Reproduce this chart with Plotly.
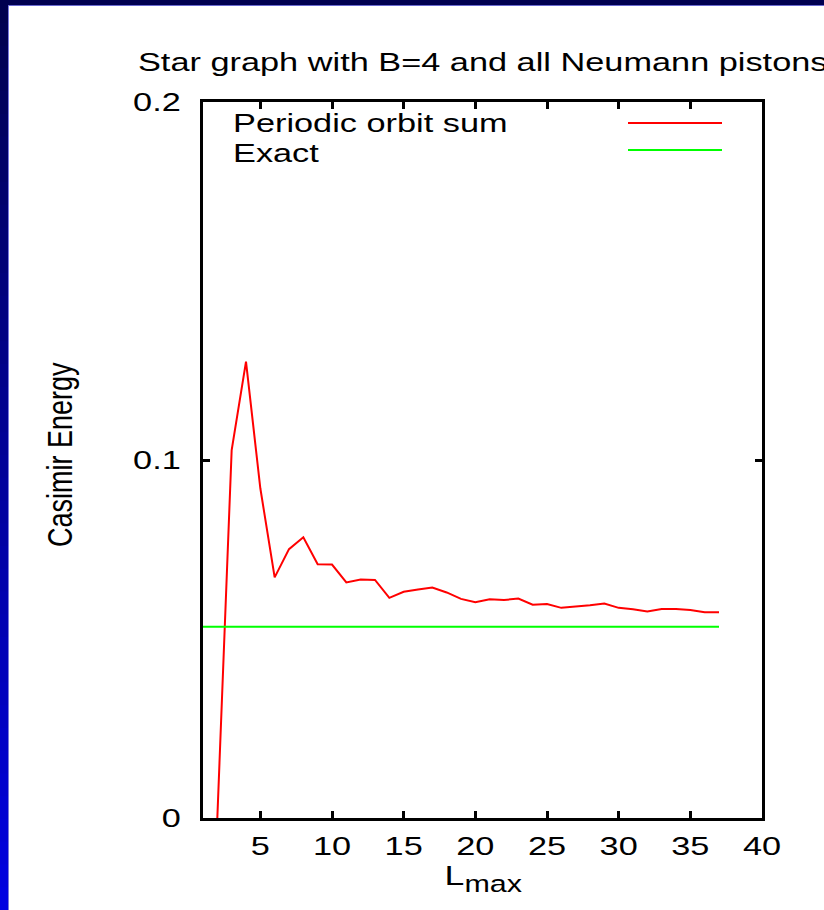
import plotly.graph_objects as go

# ---------------- data ----------------
L_max = list(range(2, 38))
periodic_orbit_sum = [
    0.0, 0.1028, 0.1275, 0.0921, 0.0672, 0.0751, 0.0784, 0.0709, 0.0708,
    0.0658, 0.0666, 0.0665, 0.0615, 0.0632, 0.0638, 0.0644, 0.0630, 0.0612,
    0.0603, 0.0611, 0.0609, 0.0613, 0.0596, 0.0598, 0.0587, 0.0590, 0.0594,
    0.0599, 0.0587, 0.0583, 0.0577, 0.0584, 0.0584, 0.0581, 0.0575, 0.0575,
]
exact_x = [1, 37]
exact_value = [0.0534, 0.0534]
x_ticks = [5, 10, 15, 20, 25, 30, 35, 40]
y_ticks = [0, 0.1, 0.2]
y_tick_labels = ["0", "0.1", "0.2"]
title_text = "Star graph with B=4 and all Neumann pistons"
series_names = ["Periodic orbit sum", "Exact"]

# ---------------- layout geometry ----------------
W, H = 824, 910
ML, MR, MT, MB = 203, 62, 102, 92
PW, PH = W - ML - MR, H - MT - MB


def px(xp):
    return (xp - ML) / PW


def py(yp):
    return (H - MB - yp) / PH


FONT = "Liberation Sans, Arial, Helvetica, sans-serif"
FS = 26

fig = go.Figure()
fig.add_trace(go.Scatter(x=L_max, y=periodic_orbit_sum, mode="lines",
                         name=series_names[0],
                         line=dict(color="#ff0000", width=2)))
fig.add_trace(go.Scatter(x=exact_x, y=exact_value, mode="lines",
                         name=series_names[1],
                         line=dict(color="#00ff00", width=2)))

shapes = []
# slide frame: left gradient band and top band
n = 40
for i in range(n):
    t = i / (n - 1)
    b = int(0x50 + (0xe0 - 0x50) * t)
    y0 = i * H / n
    y1 = (i + 1) * H / n + 1
    shapes.append(dict(type="rect", xref="paper", yref="paper",
                       x0=px(0), x1=px(8), y0=py(y1), y1=py(y0),
                       fillcolor=f"rgb(0,0,{b})", line=dict(width=0), layer="above"))
shapes.append(dict(type="rect", xref="paper", yref="paper",
                   x0=px(0), x1=px(W), y0=py(5), y1=py(0),
                   fillcolor="#000050", line=dict(width=0), layer="above"))
shapes.append(dict(type="rect", xref="paper", yref="paper",
                   x0=px(8), x1=px(9), y0=py(H), y1=py(5),
                   fillcolor="#7878e0", line=dict(width=0), layer="above"))
shapes.append(dict(type="rect", xref="paper", yref="paper",
                   x0=px(8), x1=px(W), y0=py(6), y1=py(5),
                   fillcolor="#6a6ad0", line=dict(width=0), layer="above"))
# legend sample lines (gnuplot style: text left, sample right)
shapes.append(dict(type="line", xref="paper", yref="paper",
                   x0=px(628), x1=px(722), y0=py(123), y1=py(123),
                   line=dict(color="#ff0000", width=2)))
shapes.append(dict(type="line", xref="paper", yref="paper",
                   x0=px(628), x1=px(722), y0=py(150), y1=py(150),
                   line=dict(color="#00ff00", width=2)))

annotations = [
    dict(text=title_text, xref="paper", yref="paper", x=px(136), y=py(62),
         xanchor="left", yanchor="middle", align="left", showarrow=False,
         font=dict(family=FONT, size=FS, color="black")),
    dict(text=series_names[0], xref="paper", yref="paper", x=px(233), y=py(137.5),
         xanchor="left", yanchor="bottom", align="left", showarrow=False,
         borderpad=0, borderwidth=0,
         font=dict(family=FONT, size=FS, color="black")),
    dict(text=series_names[1], xref="paper", yref="paper", x=px(233), y=py(137.5),
         xanchor="left", yanchor="top", align="left", showarrow=False,
         borderpad=0, borderwidth=0,
         font=dict(family=FONT, size=FS, color="black")),
    dict(text="Casimir Energy", xref="paper", yref="paper", x=px(60), y=py(455),
         xanchor="center", yanchor="middle", textangle=-90, showarrow=False,
         font=dict(family=FONT, size=27, color="black")),
    dict(text="<span style='font-size:27px'>L</span><sub>max</sub>",
         xref="paper", yref="paper", x=px(483), y=py(879),
         xanchor="center", yanchor="middle", showarrow=False,
         font=dict(family=FONT, size=33, color="black")),
]

axis_common = dict(showline=True, linecolor="black", linewidth=3, mirror="allticks",
                   ticks="inside", ticklen=7, tickwidth=3, tickcolor="black",
                   showgrid=False, zeroline=False,
                   tickfont=dict(family=FONT, size=FS, color="black"))

fig.update_layout(
    width=W, height=H,
    margin=dict(l=ML, r=MR, t=MT, b=MB),
    paper_bgcolor="white", plot_bgcolor="white",
    showlegend=False,
    shapes=shapes, annotations=annotations,
    xaxis=dict(range=[1, 40], tickvals=x_ticks, ticklabelstandoff=3, **axis_common),
    yaxis=dict(range=[0, 0.2], tickvals=y_ticks, ticktext=y_tick_labels,
               ticklabelstandoff=14, **axis_common),
)

# The reference image is stretched horizontally (~1.32x); reproduce this by
# widening every text element around its anchor point in screen space.
stretch_js = """
(function(){
  var gd = document.getElementById('{plot_id}');
  if (!gd) return;
  var S = 1.32;
  var svg = gd.querySelector('svg.main-svg');
  var texts = gd.querySelectorAll('svg text');
  Array.prototype.forEach.call(texts, function(t){
    if (t.getAttribute('data-stretched')) return;
    var r = t.getBoundingClientRect();
    if (!r || r.width === 0) return;
    var parent = t.parentNode;
    var ctm = parent.getScreenCTM();
    if (!ctm) return;
    var anchor = t.getAttribute('text-anchor') || 'start';
    var rotated = Math.abs(ctm.b) > 1e-6 || Math.abs(ctm.c) > 1e-6 ||
                  (t.getAttribute('transform') || '').indexOf('rotate') >= 0;
    var sx;
    if (rotated || anchor === 'middle') sx = r.left + r.width / 2;
    else if (anchor === 'end') sx = r.right;
    else sx = r.left;
    var ms = svg.createSVGMatrix().translate(sx, 0).scaleNonUniform(S, 1).translate(-sx, 0);
    var m = ctm.inverse().multiply(ms).multiply(ctm);
    var g = document.createElementNS('http://www.w3.org/2000/svg', 'g');
    g.setAttribute('transform', 'matrix(' + [m.a, m.b, m.c, m.d, m.e, m.f].join(',') + ')');
    parent.insertBefore(g, t);
    g.appendChild(t);
    t.setAttribute('data-stretched', '1');
  });
})();
"""

fig.write_html("out.html", post_script=stretch_js)
